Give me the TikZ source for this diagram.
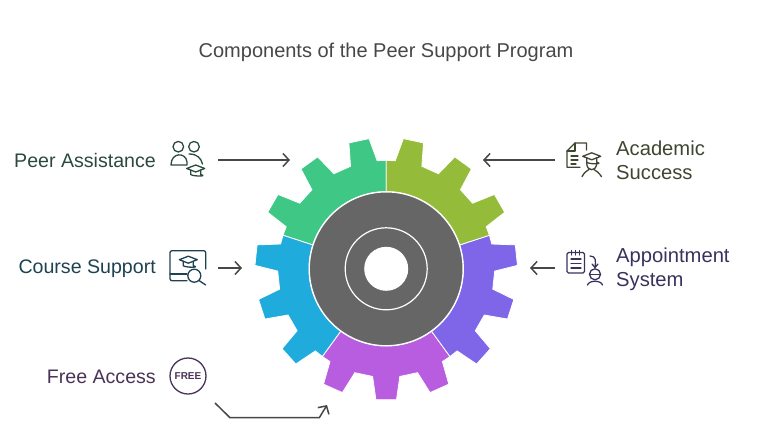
\documentclass[tikz,border=0pt]{standalone}
\usepackage{fontspec}
\setmainfont{Liberation Sans}
\usetikzlibrary{arrows.meta}

\definecolor{gearteal}{HTML}{3FC785}
\definecolor{gearolive}{HTML}{94BC3A}
\definecolor{gearblue}{HTML}{1FACDC}
\definecolor{gearviolet}{HTML}{7F66E8}
\definecolor{gearpurple}{HTML}{B85CE0}
\definecolor{hubgrey}{HTML}{666666}
\definecolor{linegrey}{HTML}{474747}
\definecolor{peerink}{HTML}{2B4A3C}
\definecolor{courseink}{HTML}{1F4252}
\definecolor{freeink}{HTML}{4A3358}
\definecolor{academicink}{HTML}{3F4630}
\definecolor{apptink}{HTML}{38335C}

\tikzset{
	label text/.style={font=\fontsize{19.6}{24}\selectfont, inner sep=0pt},
	right text/.style={font=\fontsize{20.2}{24}\selectfont, inner sep=0pt},
	link/.style={draw=linegrey, line width=1.5pt, -{Straight Barb[length=6pt,width=13pt]}},
	icon/.style={line width=1.3pt, line cap=round, line join=round},
}

% one coloured part of the gear, three teeth, from angle #2
\newcommand{\gearpart}[2]{
	\fill[#1, draw=white, line width=0.8pt] (#2:77) -- (#2:108.5)
		foreach \t in {#2+12, #2+36, #2+60} {
			-- (\t-7.2:108.5) -- (\t-4.5:131.3) -- (\t+4.5:131.3) -- (\t+7.2:108.5)
		}
		-- (#2+72:108.5) -- (#2+72:77) arc[start angle=#2+72, end angle=#2, radius=77] -- cycle;
}
% small graduation cap, centre #1
\newcommand{\gradcap}[2]{
	\draw[icon, #2] (#1) ++(-9,2) -- ++(9,3.5) -- ++(9,-3.5) -- ++(-9,-3.5) -- cycle;
	\draw[icon, #2] (#1) ++(-5,0.5) -- ++(0,-4.5) .. controls +(2,-2) and +(8,-2) .. ++(10,0) -- ++(0,4.5);
}

\begin{document}
\begin{tikzpicture}[x=1pt, y=1pt]
	\useasboundingbox (0,0) rectangle (765,424);

	\node[font=\fontsize{20}{24}\selectfont, text=linegrey, inner sep=0pt] (title) at (386,371.5) {Components of the Peer Support Program};

	% gear
	\begin{scope}[shift={(386.2,155.2)}]
		\gearpart{gearteal}{90}
		\gearpart{gearblue}{162}
		\gearpart{gearpurple}{234}
		\gearpart{gearviolet}{306}
		\gearpart{gearolive}{18}
		\node[circle, fill=hubgrey, draw=white, line width=1.4pt, minimum size=154pt] (hub) at (0,0) {};
		\node[circle, draw=white, line width=1.2pt, minimum size=82pt] (ring) at (0,0) {};
		\node[circle, fill=white, minimum size=44pt] (hole) at (0,0) {};
	\end{scope}

	% labels
	\node[label text, text=peerink, anchor=east] (peer) at (156,264) {Peer Assistance};
	\node[label text, text=courseink, anchor=east] (course) at (156,155) {Course Support};
	\node[label text, text=freeink, anchor=east] (free) at (156,47.5) {Free Access};
	\node[right text, text=academicink, anchor=west, align=left] (academic) at (616,264) {Academic\\Success};
	\node[right text, text=apptink, anchor=west, align=left] (appt) at (616,155) {Appointment\\System};

	% connectors
	\coordinate (peerout) at (218,264);
	\coordinate (peerin) at (290,264);
	\coordinate (courseout) at (218,156);
	\coordinate (coursein) at (242,156);
	\coordinate (academicout) at (555,264);
	\coordinate (academicin) at (483,264);
	\coordinate (apptout) at (555,156);
	\coordinate (apptin) at (530,156);
	\coordinate (freeout) at (215,21);
	\coordinate (freein) at (327,19);
	\draw[link] (peerout) -- (peerin);
	\draw[link] (courseout) -- (coursein);
	\draw[link] (academicout) -- (academicin);
	\draw[link] (apptout) -- (apptin);
	\draw[link] (freeout) -- (230,6.3) -- (319.3,6.3) -- (freein);

	% peer icon
	\begin{scope}[peerink]
		\draw[icon] (178.3,277.3) circle (5.3);
		\draw[icon] (194,277.3) circle (5.3);
		\draw[icon] (171,259) .. controls (171,272) and (186,272) .. (187,262) -- (187,259) -- cycle;
		\draw[icon] (189,270) .. controls (197,270) and (201,266) .. (202.5,260);
		\gradcap{195.7,253.5}{peerink}
	\end{scope}

	% course icon
	\begin{scope}[courseink]
		\draw[icon, rounded corners=2pt] (205.7,155) -- (205.7,173.3) -- (170,173.3) -- (170,143.3) -- (187,143.3);
		\draw[icon] (170,150) -- (187,150);
		\gradcap{188.3,162.3}{courseink}
		\draw[icon] (194.3,148.3) circle (6.5);
		\draw[icon] (199,143.5) -- (205.7,139);
	\end{scope}

	% free icon
	\node[circle, draw=freeink, line width=1.3pt, minimum size=36pt, inner sep=0pt, text=freeink, font=\bfseries\fontsize{10}{10}\selectfont] (freeicon) at (188,48) {FREE};

	% academic icon
	\begin{scope}[academicink]
		\draw[icon] (586.5,274) -- (586.5,281) -- (575,281) -- (567,273) -- (567,256.7) -- (580,256.7);
		\draw[icon] (575,281) -- (575,273) -- (567,273);
		\draw[icon] (571,268) -- (578,268);
		\draw[icon] (571,264) -- (578,264);
		\draw[icon] (571,260) -- (576,260);
		\gradcap{591.7,265.7}{academicink}
		\draw[icon] (586.7,261) .. controls (586.7,252) and (596.7,252) .. (596.7,261);
		\draw[icon] (582,247.3) .. controls (584,251) and (586,253) .. (589,254.5);
		\draw[icon] (601.5,247.3) .. controls (599,251) and (597,253) .. (594,254.5);
	\end{scope}

	% appointment icon
	\begin{scope}[apptink]
		\draw[icon, rounded corners=1.5pt] (567,151) rectangle (584.5,171.5);
		\foreach \x in {571.5,575.5,579.5}
			\draw[icon] (\x,169) -- (\x,173.5);
		\draw[icon] (571,165) -- (581,165);
		\draw[icon] (571,160.5) -- (581,160.5);
		\draw[icon] (571,156) -- (581,156);
		\draw[icon] (590,168) .. controls (596,168) and (596,163) .. (595,157);
		\draw[icon] (592,160) -- (595,156.5) -- (598,160);
		\draw[icon] (595,149.7) circle (5.5);
		\draw[icon] (589.5,149.7) -- (600.5,149.7);
		\draw[icon] (587.5,139) .. controls (589,144) and (601,144) .. (602.5,139);
	\end{scope}
\end{tikzpicture}
\end{document}
